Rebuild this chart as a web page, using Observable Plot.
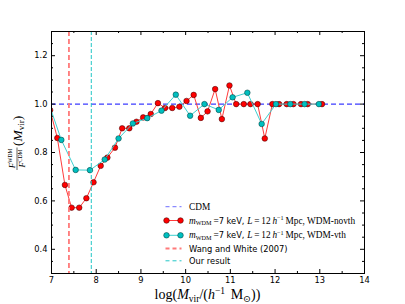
<!DOCTYPE html>
<html>
<head>
<meta charset="utf-8">
<script src="https://cdn.jsdelivr.net/npm/d3@7"></script>
<script src="https://cdn.jsdelivr.net/npm/@observablehq/plot@0.6"></script>
<style>
  html, body { margin: 0; padding: 0; background: #fff; }
</style>
</head>
<body>
<div id="chart"></div>
<script>
// Red series: WDM-novth
const novthX = [6.97, 7.13, 7.30, 7.45, 7.62, 7.78, 7.94, 8.10, 8.25, 8.42, 8.58, 8.74, 8.90, 9.05, 9.22, 9.38, 9.54, 9.70, 9.86, 10.02, 10.18, 10.34, 10.49, 10.66, 10.81, 10.98, 11.13, 11.30, 11.45, 11.61, 11.77, 11.94, 12.09, 12.26, 12.41, 12.58, 12.73, 13.05];
const novthY = [0.975, 0.860, 0.666, 0.572, 0.572, 0.611, 0.677, 0.745, 0.779, 0.820, 0.900, 0.900, 0.927, 0.945, 0.959, 1.004, 0.984, 0.984, 0.989, 1.013, 1.038, 0.943, 0.970, 1.062, 0.938, 1.077, 1.000, 1.000, 1.000, 1.000, 0.858, 1.000, 1.000, 1.000, 1.000, 1.000, 1.000, 1.000];
// Teal series: WDM-vth
const vthX = [6.90, 7.22, 7.54, 7.86, 8.19, 8.50, 8.82, 9.14, 9.46, 9.78, 10.10, 10.42, 10.74, 11.05, 11.38, 11.70, 12.02, 12.34, 12.66, 12.98];
const vthY = [1.024, 0.852, 0.728, 0.727, 0.771, 0.858, 0.920, 0.942, 0.973, 1.039, 0.952, 1.000, 0.976, 1.028, 1.047, 0.918, 1.000, 1.000, 1.000, 1.000];
// Reference lines
const cdmLevel = [1.0];
const wangWhiteMass = [7.39];
const ourResultMass = [7.89];
// Tick values
const xMajor = [7, 8, 9, 10, 11, 12, 13, 14];
const xMinor = [7.5, 8.5, 9.5, 10.5, 11.5, 12.5, 13.5];
const yMajor = [0.4, 0.6, 0.8, 1.0, 1.2];
const yMinor = [0.3, 0.35, 0.45, 0.5, 0.55, 0.65, 0.7, 0.75, 0.85, 0.9, 0.95, 1.05, 1.1, 1.15, 1.25, 1.3];

const novth = novthX.map((x, i) => ({x, y: novthY[i]}));
const vth = vthX.map((x, i) => ({x, y: vthY[i]}));

const W = 405, H = 304;
const mL = 51, mR = 41, mT = 31, mB = 31;
const innerW = W - mL - mR, innerH = H - mT - mB;

const RED_LINE = "#ff3b3b", RED_FILL = "#ff0000";
const TEAL_LINE = "#3fd0d0", TEAL_FILL = "#00bfbf";
const CDM_COL = "#3c3cff";
const WW_COL = "#ff7a7a";
const OUR_COL = "#22c6c6";

const chart = Plot.plot({
  width: W, height: H,
  marginLeft: mL, marginRight: mR, marginTop: mT, marginBottom: mB,
  style: {fontFamily: "DejaVu Sans", fontSize: "8.3px", color: "black", background: "white"},
  x: {domain: [7, 14], ticks: xMajor, tickSize: 0, tickPadding: 3.5, tickFormat: d3.format("d"), label: null},
  y: {domain: [0.3, 1.3], ticks: yMajor, tickSize: 0, tickPadding: 4, tickFormat: d3.format(".1f"), label: null},
  marks: [
    Plot.ruleY(cdmLevel, {stroke: CDM_COL, strokeWidth: 1.2, strokeDasharray: "5,3"}),
    Plot.line(novth, {x: "x", y: "y", stroke: RED_LINE, strokeWidth: 1, clip: true}),
    Plot.dot(novth, {x: "x", y: "y", r: 2.8, fill: RED_FILL, stroke: "#300", strokeWidth: 0.5, clip: true}),
    Plot.line(vth, {x: "x", y: "y", stroke: TEAL_LINE, strokeWidth: 1, clip: true}),
    Plot.dot(vth, {x: "x", y: "y", r: 2.8, fill: TEAL_FILL, stroke: "#033", strokeWidth: 0.5, clip: true}),
    Plot.ruleX(wangWhiteMass, {stroke: WW_COL, strokeWidth: 1.8, strokeDasharray: "5,3"}),
    Plot.ruleX(ourResultMass, {stroke: OUR_COL, strokeWidth: 1, strokeDasharray: "4,2"}),
    // inward ticks on all four sides
    Plot.tickX(xMajor, {x: d => d, insetTop: innerH - 4, stroke: "black"}),
    Plot.tickX(xMajor, {x: d => d, insetBottom: innerH - 4, stroke: "black"}),
    Plot.tickX(xMinor, {x: d => d, insetTop: innerH - 2, stroke: "black"}),
    Plot.tickX(xMinor, {x: d => d, insetBottom: innerH - 2, stroke: "black"}),
    Plot.tickY(yMajor, {y: d => d, insetRight: innerW - 4, stroke: "black"}),
    Plot.tickY(yMajor, {y: d => d, insetLeft: innerW - 4, stroke: "black"}),
    Plot.tickY(yMinor, {y: d => d, insetRight: innerW - 2, stroke: "black"}),
    Plot.tickY(yMinor, {y: d => d, insetLeft: innerW - 2, stroke: "black"}),
    Plot.frame({stroke: "black", strokeWidth: 1})
  ]
});

document.getElementById("chart").appendChild(chart);

const svg = d3.select(chart);
const SERIF = "'Liberation Serif', 'DejaVu Serif', serif";
const SANS = "'DejaVu Sans', sans-serif";

// x-axis label: log(M_vir/(h^-1 M_sun))
{
  const t = svg.append("text")
    .attr("x", mL + innerW / 2).attr("y", 299)
    .attr("text-anchor", "middle")
    .style("font-family", SERIF).style("font-size", "14px").attr("fill", "black");
  t.append("tspan").text("log(");
  t.append("tspan").style("font-style", "italic").text("M");
  t.append("tspan").attr("dy", 2.8).style("font-size", "9.5px").text("vir");
  t.append("tspan").attr("dy", -2.8).text("/(");
  t.append("tspan").style("font-style", "italic").text("h");
  t.append("tspan").attr("dy", -5).style("font-size", "9.5px").text("−1");
  t.append("tspan").attr("dy", 5).text("\u2009\u2009M");
  t.append("tspan").attr("dy", 2.8).style("font-size", "9.5px").text("⊙");
  t.append("tspan").attr("dy", -2.8).text("))");
}

// y-axis label: F^WDM / F^CDM (M_vir), rotated
{
  const g = svg.append("g").attr("transform", "translate(17,146) rotate(-90)")
    .style("font-family", SERIF).attr("fill", "black");
  const num = g.append("text").attr("x", -12.5).attr("y", -2).attr("text-anchor", "middle").style("font-size", "9px");
  num.append("tspan").style("font-style", "italic").text("F");
  num.append("tspan").attr("dy", -2.8).style("font-size", "5.5px").text("WDM");
  const den = g.append("text").attr("x", -12.5).attr("y", 8).attr("text-anchor", "middle").style("font-size", "9px");
  den.append("tspan").style("font-style", "italic").text("F");
  den.append("tspan").attr("dy", -2.8).style("font-size", "5.5px").text("CDM");
  g.append("line").attr("x1", -24).attr("x2", -1.5).attr("y1", 0).attr("y2", 0).attr("stroke", "black").attr("stroke-width", 0.6);
  const rest = g.append("text").attr("x", 0).attr("y", 4.5).attr("text-anchor", "start").style("font-size", "13.5px");
  rest.append("tspan").text("(");
  rest.append("tspan").style("font-style", "italic").text("M");
  rest.append("tspan").attr("dy", 2.8).style("font-size", "9px").text("vir");
  rest.append("tspan").attr("dy", -2.8).text(")");
}

// legend
{
  const lg = svg.append("g").attr("text-anchor", "start");
  const hx1 = 166.5, hx2 = 180.5, tx = 189;
  const rows = [206.7, 220.5, 235.3, 248.5, 260.8];
  // CDM
  lg.append("line").attr("x1", hx1 - 1).attr("x2", hx2 + 1).attr("y1", rows[0]).attr("y2", rows[0])
    .attr("stroke", CDM_COL).attr("stroke-opacity", 0.6).attr("stroke-width", 1.2).attr("stroke-dasharray", "4,3");
  lg.append("text").attr("x", tx).attr("y", rows[0] + 3).attr("text-anchor", "start").style("font-family", SERIF).style("font-size", "9.3px").text("CDM");
  // series handles
  const series = [
    {y: rows[1], line: RED_LINE, fill: RED_FILL, edge: "#300", tag: "WDM-novth"},
    {y: rows[2], line: TEAL_LINE, fill: TEAL_FILL, edge: "#033", tag: "WDM-vth"}
  ];
  for (const s of series) {
    lg.append("line").attr("x1", hx1).attr("x2", hx2).attr("y1", s.y).attr("y2", s.y).attr("stroke", s.line).attr("stroke-width", 1);
    for (const cx of [hx1, hx2]) {
      lg.append("circle").attr("cx", cx).attr("cy", s.y).attr("r", 2.8).attr("fill", s.fill).attr("stroke", s.edge).attr("stroke-width", 0.5);
    }
    const t = lg.append("text").attr("x", tx).attr("y", s.y + 3).attr("text-anchor", "start").style("font-family", SERIF).style("font-size", "9.3px");
    t.append("tspan").style("font-style", "italic").text("m");
    t.append("tspan").attr("dy", 1.8).style("font-size", "6.2px").text("WDM");
    t.append("tspan").attr("dy", -1.8).text("\u2009=");
    t.append("tspan").style("font-family", SANS).style("font-size", "8.3px").text("7 keV, ");
    t.append("tspan").style("font-style", "italic").text("L");
    t.append("tspan").text("\u2009=\u200912\u2009");
    t.append("tspan").style("font-style", "italic").text("h");
    t.append("tspan").attr("dy", -3.5).style("font-size", "6.2px").text("−1");
    t.append("tspan").attr("dy", 3.5).text("\u2009Mpc, " + s.tag);
  }
  // vertical-line entries
  lg.append("line").attr("x1", hx1 - 1).attr("x2", hx2 + 1).attr("y1", rows[3]).attr("y2", rows[3])
    .attr("stroke", WW_COL).attr("stroke-width", 1.8).attr("stroke-dasharray", "4,3");
  lg.append("text").attr("x", tx).attr("y", rows[3] + 3).attr("text-anchor", "start").style("font-family", SANS).style("font-size", "8.3px").text("Wang and White (2007)");
  lg.append("line").attr("x1", hx1 - 1).attr("x2", hx2 + 1).attr("y1", rows[4]).attr("y2", rows[4])
    .attr("stroke", OUR_COL).attr("stroke-width", 1).attr("stroke-dasharray", "4,3");
  lg.append("text").attr("x", tx).attr("y", rows[4] + 3).attr("text-anchor", "start").style("font-family", SANS).style("font-size", "8.3px").text("Our result");
}
</script>
</body>
</html>
